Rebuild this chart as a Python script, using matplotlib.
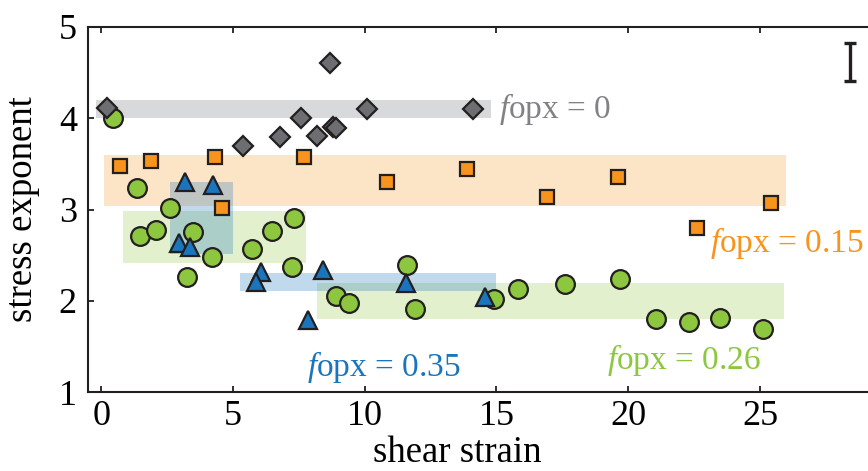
#!/usr/bin/env python3
import matplotlib
matplotlib.use("Agg")
import matplotlib.pyplot as plt

plt.rcParams['font.family'] = ['Liberation Serif', 'DejaVu Serif']
plt.rcParams['mathtext.fontset'] = 'custom'
plt.rcParams['mathtext.rm'] = 'Liberation Serif'
plt.rcParams['mathtext.it'] = 'Liberation Serif:italic'

# f_opx = 0 (diamonds)
x_d = [0.23, 5.37, 6.78, 7.58, 8.18, 8.67, 8.8, 8.9, 10.1, 14.1]
y_d = [4.11, 3.70, 3.79, 4.00, 3.81, 4.61, 3.90, 3.89, 4.10, 4.10]

# f_opx = 0.15 (squares)
x_s = [0.7, 1.89, 4.32, 4.58, 7.7, 10.85, 13.9, 16.9, 19.6, 22.6, 25.4]
y_s = [3.48, 3.53, 3.58, 3.02, 3.57, 3.30, 3.44, 3.14, 3.36, 2.80, 3.07]

# f_opx = 0.35 (triangles)
x_t = [3.18, 4.24, 2.95, 3.37, 6.06, 5.87, 8.4, 7.85, 11.55, 14.55]
y_t = [3.30, 3.27, 2.63, 2.59, 2.32, 2.21, 2.34, 1.79, 2.19, 2.04]

# f_opx = 0.26 (circles)
x_c = [0.43, 1.36, 2.62, 7.3, 1.48, 2.07, 3.48, 6.47, 5.71, 4.2, 3.27, 7.23,
       8.9, 9.4, 11.6, 11.9, 14.9, 15.8, 17.6, 19.7, 21.05, 22.3, 23.5, 25.1]
y_c = [4.0, 3.24, 3.02, 2.91, 2.71, 2.78, 2.75, 2.76, 2.57, 2.48, 2.26, 2.37,
       2.05, 1.98, 2.39, 1.91, 2.02, 2.13, 2.18, 2.24, 1.80, 1.77, 1.81, 1.69]

# shaded ranges: (x0, x1, y0, y1)
band_gray = [(-0.2, 14.8, 4.0, 4.2)]
band_orange = [(0.1, 26.0, 3.04, 3.60)]
band_green = [(0.83, 7.77, 2.41, 2.98), (8.2, 25.9, 1.80, 2.19)]
band_blue = [(2.6, 5.0, 2.51, 3.30), (5.27, 15.0, 2.11, 2.30)]

c_gray = '#6d6e71'
c_orange = '#f7941d'
c_green = '#8dc63f'
c_blue = '#1b75bc'
edge = '#231f20'

fig = plt.figure(figsize=(8.68, 4.71), dpi=100)
ax = fig.add_axes([0.1014, 0.1677, 0.8986, 0.775])


def draw_bands(bands, color, alpha):
    for x0, x1, y0, y1 in bands:
        ax.fill_between([x0, x1], [y0, y0], [y1, y1], color=color,
                        alpha=alpha, lw=0, zorder=1)


draw_bands(band_gray, '#808285', 0.3)
draw_bands(band_orange, c_orange, 0.25)
draw_bands(band_green, c_green, 0.25)
draw_bands(band_blue, c_blue, 0.27)

mk = dict(ls='none', markeredgecolor=edge, markeredgewidth=1.6, zorder=3)
ax.plot(x_c, y_c, 'o', ms=13.5, markerfacecolor=c_green, **mk)
ax.plot(x_s, y_s, 's', ms=10.5, markerfacecolor=c_orange, **mk)
ax.plot(x_t, y_t, '^', ms=13.5, markerfacecolor=c_blue, **mk)
ax.plot(x_d, y_d, 'D', ms=10.5, markerfacecolor=c_gray, **mk)

# error scale bar
ax.errorbar([28.4], [4.62], yerr=[0.21], fmt='none', ecolor='#231f20',
            elinewidth=2.4, capsize=4.5, capthick=2.4, zorder=3)

fs_tick = 26
fs_lab = 26.5
fs_ann = 24
ax.text(15.1, 4.1, r'$f$opx = 0', color='#808285', fontsize=fs_ann, va='center')
ax.text(23.1, 2.63, r'$f$opx = 0.15', color=c_orange, fontsize=fs_ann, va='center')
ax.text(7.8, 1.27, r'$f$opx = 0.35', color=c_blue, fontsize=fs_ann, va='center')
ax.text(19.2, 1.35, r'$f$opx = 0.26', color=c_green, fontsize=fs_ann, va='center')

ax.set_xlim(-0.5, 29.1)
ax.set_ylim(1, 5)
ax.set_xticks([0, 5, 10, 15, 20, 25])
ax.set_yticks([1, 2, 3, 4, 5])
ax.tick_params(direction='in', length=4, width=1.3, labelsize=fs_tick,
               top=True, right=False, color='#231f20')
ax.tick_params(axis='x', pad=6)
ax.tick_params(axis='y', pad=8)
for s in ['left', 'bottom', 'top']:
    ax.spines[s].set_linewidth(1.5)
    ax.spines[s].set_color('#231f20')
ax.spines['right'].set_visible(False)

ax.set_xlabel('shear strain', fontsize=fs_lab)
ax.set_ylabel('stress exponent', fontsize=fs_lab)
ax.xaxis.set_label_coords(0.474, -0.118)
ax.yaxis.set_label_coords(-0.062, 0.5)

fig.savefig('out.png', dpi=100)
